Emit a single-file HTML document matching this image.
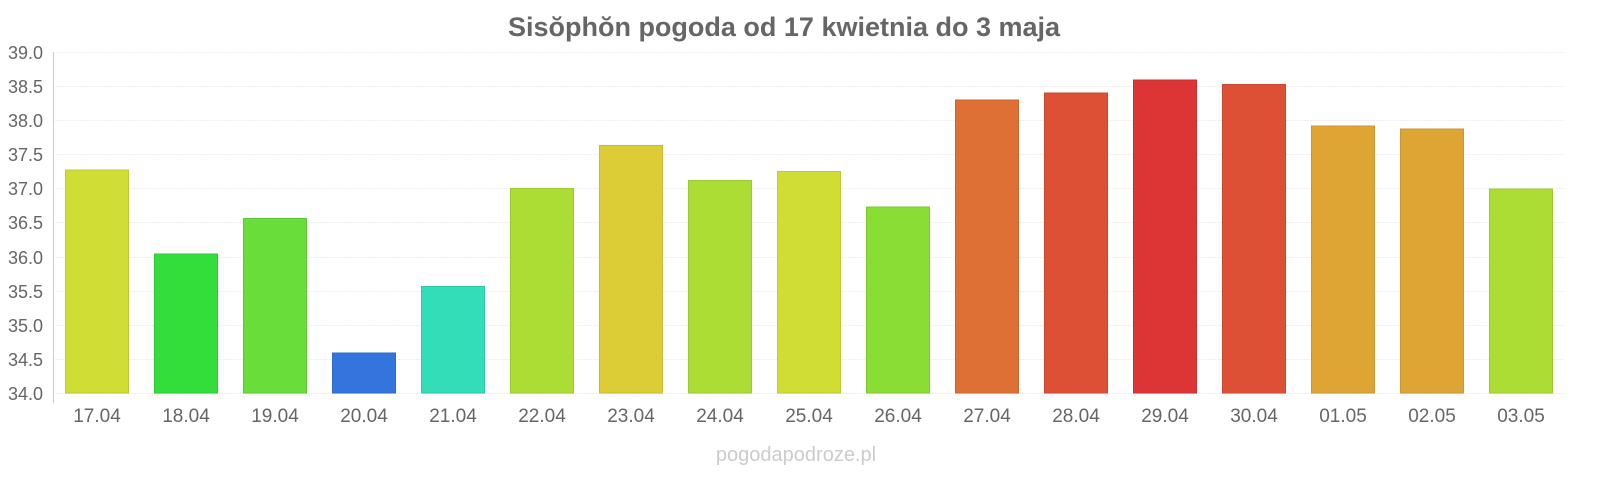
<!DOCTYPE html>
<html><head><meta charset="utf-8"><style>
html,body{margin:0;padding:0;background:#fff;width:1600px;height:480px;overflow:hidden;}
svg{display:block;}
</style></head><body>
<svg width="1600" height="480" xmlns="http://www.w3.org/2000/svg" font-family="Liberation Sans, Arial, sans-serif">
<rect width="1600" height="480" fill="#fff"/>
<text x="784" y="36" text-anchor="middle" font-size="27" font-weight="bold" fill="#666">Sisŏphŏn pogoda od 17 kwietnia do 3 maja</text>
<g stroke="#eee" stroke-width="1" stroke-dasharray="2,1">
<line x1="53" x2="1565" y1="52.5" y2="52.5"/>
<line x1="53" x2="1565" y1="86.5" y2="86.5"/>
<line x1="53" x2="1565" y1="120.5" y2="120.5"/>
<line x1="53" x2="1565" y1="154.5" y2="154.5"/>
<line x1="53" x2="1565" y1="188.5" y2="188.5"/>
<line x1="53" x2="1565" y1="222.5" y2="222.5"/>
<line x1="53" x2="1565" y1="257.5" y2="257.5"/>
<line x1="53" x2="1565" y1="291.5" y2="291.5"/>
<line x1="53" x2="1565" y1="325.5" y2="325.5"/>
<line x1="53" x2="1565" y1="359.5" y2="359.5"/>
<line x1="53" x2="1565" y1="393.5" y2="393.5"/>
</g>
<line x1="53.5" x2="53.5" y1="52" y2="403" stroke="#ccc"/>
<g font-size="18" fill="#666" text-anchor="end">
<text x="43" y="59">39.0</text>
<text x="43" y="93">38.5</text>
<text x="43" y="127">38.0</text>
<text x="43" y="161">37.5</text>
<text x="43" y="195">37.0</text>
<text x="43" y="229">36.5</text>
<text x="43" y="264">36.0</text>
<text x="43" y="298">35.5</text>
<text x="43" y="332">35.0</text>
<text x="43" y="366">34.5</text>
<text x="43" y="400">34.0</text>
</g>
<g stroke-width="1">
<rect x="65.5" y="170" width="63" height="223" fill="#cfdd35" stroke="#bcc930"/>
<rect x="154.5" y="254" width="63" height="139" fill="#33dd3a" stroke="#2ec935"/>
<rect x="243.5" y="218.5" width="63" height="174.5" fill="#69dd3a" stroke="#5fc935"/>
<rect x="332.5" y="353" width="63" height="40" fill="#3375dd" stroke="#2e6ac9"/>
<rect x="421.5" y="286.5" width="63" height="106.5" fill="#33ddb8" stroke="#2ec9a7"/>
<rect x="510.5" y="188.5" width="63" height="204.5" fill="#acdd35" stroke="#9cc930"/>
<rect x="599.5" y="145.5" width="63" height="247.5" fill="#dccc35" stroke="#c9ba30"/>
<rect x="688.5" y="180.5" width="63" height="212.5" fill="#acdd35" stroke="#9cc930"/>
<rect x="777.5" y="171.5" width="63" height="221.5" fill="#cfdd35" stroke="#bcc930"/>
<rect x="866.5" y="207" width="63" height="186" fill="#8add35" stroke="#7dc930"/>
<rect x="955.5" y="100" width="63" height="293" fill="#de7035" stroke="#c96630"/>
<rect x="1044.5" y="93" width="63" height="300" fill="#de5035" stroke="#c94930"/>
<rect x="1133.5" y="80" width="63" height="313" fill="#dd3535" stroke="#c93030"/>
<rect x="1222.5" y="84.5" width="63" height="308.5" fill="#de5035" stroke="#c94930"/>
<rect x="1311.5" y="126" width="63" height="267" fill="#dea535" stroke="#c99630"/>
<rect x="1400.5" y="129" width="63" height="264" fill="#dea535" stroke="#c99630"/>
<rect x="1489.5" y="189" width="63" height="204" fill="#acdd35" stroke="#9cc930"/>
</g>
<g font-size="19" fill="#666" text-anchor="middle">
<text x="97" y="422">17.04</text>
<text x="186" y="422">18.04</text>
<text x="275" y="422">19.04</text>
<text x="364" y="422">20.04</text>
<text x="453" y="422">21.04</text>
<text x="542" y="422">22.04</text>
<text x="631" y="422">23.04</text>
<text x="720" y="422">24.04</text>
<text x="809" y="422">25.04</text>
<text x="898" y="422">26.04</text>
<text x="987" y="422">27.04</text>
<text x="1076" y="422">28.04</text>
<text x="1165" y="422">29.04</text>
<text x="1254" y="422">30.04</text>
<text x="1343" y="422">01.05</text>
<text x="1432" y="422">02.05</text>
<text x="1521" y="422">03.05</text>
</g>
<text x="796" y="461" text-anchor="middle" font-size="20" fill="#ccc">pogodapodroze.pl</text>
</svg>
</body></html>
